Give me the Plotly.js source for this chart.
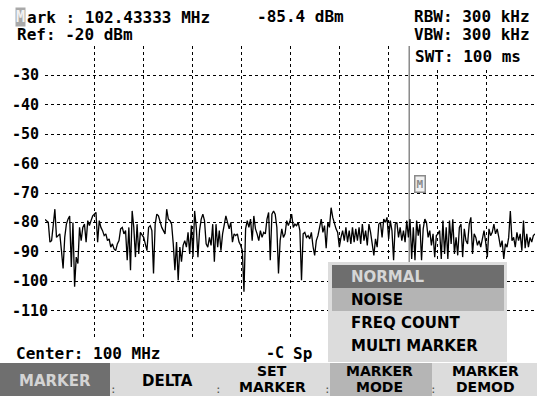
<!DOCTYPE html>
<html><head><meta charset="utf-8">
<script src="https://cdn.plot.ly/plotly-3.0.1.min.js"></script>
<style>html,body{margin:0;padding:0;background:#fff;overflow:hidden}#chart{width:537px;height:396px}</style>
</head><body><div id="chart"></div>
<script>
// ---- data ----
const startFreqMHz = 95;
const stopFreqMHz = 105;
const gridFreqsMHz = [95, 96, 97, 98, 99, 100, 101, 102, 103, 104, 105];
const gridLevelsDbm = [-20, -30, -40, -50, -60, -70, -80, -90, -100, -110, -120];
const yTickVals = [-30, -40, -50, -60, -70, -80, -90, -100, -110];
const yTickText = ['-30', '-40', '-50', '-60', '-70', '-80', '-90', '-100', '-110'];
const markerFreqMHz = 102.43333;
const markerLevelDbm = -85.4;
const levelsDbm = [
  -79, -79.5, -80, -86.7, -86.2, -81, -75.5, -85.1, -84.5, -83.9,
  -89.6, -95.7, -85.1, -80.6, -78.9, -77.8, -95.2, -80, -101.9, -91.8,
  -94, -81.7, -86.2, -81.7, -80.6, -86.7, -79.4, -81.1, -79.4, -77.8,
  -77.2, -76.6, -86.7, -79.4, -81.7, -82.8, -84.5, -83.9, -86.2, -85.6,
  -88.4, -87.3, -89, -89.6, -87.3, -86.2, -82.2, -81.7, -83.9, -82.8,
  -92.9, -81.7, -96.3, -76.1, -81.7, -91.8, -80.6, -90.7, -83.4, -84.5,
  -85.1, -87.3, -89.6, -81.7, -81.1, -82.8, -97.4, -80.6, -77.2, -77.8,
  -80, -81.7, -82.8, -83.9,
  -75.5, -78.9, -79.4, -80.6, -87.3, -96.3, -86.7, -99.7, -88.4, -93.4,
  -87.8, -86.2, -88.4, -83.4, -90.7, -81.1, -91.8, -76.1, -81.7, -91.8,
  -82.8, -78.9, -77.2, -79.4, -87.3, -88.4, -85.1, -87.8, -80.6, -93.4,
  -80.6, -88.4, -82.8, -89.6, -83.9, -81.1, -77.8, -80, -82.2, -80,
  -86.7, -83.9, -84.5, -83.9, -86.7, -87.8, -89.6, -103.6, -82.2, -79.4,
  -81.7, -78.9, -86.2, -77.8, -82.2, -83.9, -86.2, -82.8, -85.1, -83.4,
  -83.9, -78.9, -76.6, -92.9, -77.2, -76.1, -77.2, -81.7, -97.4, -86.2,
  -82.2, -85.1, -83.9,
  -79.4, -81.1, -79.4, -77.2, -81.7, -80.6, -81.1, -80, -82.8, -99.7,
  -83.9, -83.4, -85.1, -84.5, -85.6, -83.4, -88.2, -91.2, -86.2, -84.5,
  -81.7, -78.9, -83.4, -81.1, -88.8, -80, -81.7, -75, -78.3, -80.6,
  -82.2, -83.4, -88.4, -85.1, -82.8, -86.2, -81.7, -86.7, -82.8, -87.3,
  -81.7, -86.7, -82.2, -86.2, -81.7, -87.3, -80.6, -86.2, -82.8, -87.8,
  -80.6, -83.4, -87.3, -91.2, -85.6, -88.4, -80.6, -80, -85.1, -78.9,
  -80, -78.3, -85.6, -79.4, -82.8, -92.9, -80.6, -80, -85.1, -81.7,
  -86.2, -82.8, -86.7,
  -79.4, -85.1, -78.9, -92.4, -81.7, -92.9, -79.4, -84.5, -80.6, -92.9,
  -82.2, -78.9, -80, -85.1, -82.8, -87.8, -83.9, -91.8, -84.5, -83.9,
  -82.8, -92.4, -79.4, -90.7, -81.7, -92.4, -79.4, -87.3, -78.9, -90.7,
  -85.1, -91.2, -81.7, -80.6, -91.8, -82.2, -86.2, -87.3, -80.6, -78.3,
  -90.7, -83.9, -85.1, -87.8, -86.2, -88.4, -85.1, -82.8, -86.7, -91.8,
  -82.2, -84.5, -83.4, -80.6, -83.9, -82.2, -85.1, -88.4, -86.2, -92.4,
  -87.3, -88.4, -85.1, -76.1, -86.2, -85.1, -88.4, -83.4, -86.2, -83.9,
  -89.6, -79.4, -88.8, -83.9, -88.4, -85.1, -86.7, -84.5, -83.9
];
const headerLeft = ['ark : 102.43333 MHz', 'Ref: -20 dBm'];
const markerReadout = '-85.4 dBm';
const headerRight = ['RBW: 300 kHz', 'VBW: 300 kHz', 'SWT: 100 ms'];
const menuItems = ['NORMAL', 'NOISE', 'FREQ COUNT', 'MULTI MARKER'];
const softkeys = [['MARKER'], ['DELTA'], ['SET', 'MARKER'], ['MARKER', 'MODE'], ['MARKER', 'DEMOD']];
const centerText = 'Center: 100 MHz';

// ---- layout helpers (page pixels -> paper fractions) ----
const W = 537, H = 396;
const X = p => p / W;
const Y = p => 1 - p / H;
const mono = 'DejaVu Sans Mono';
const sans = 'DejaVu Sans';

const freqs = levelsDbm.map((_, i) => startFreqMHz + i * (stopFreqMHz - startFreqMHz) / (levelsDbm.length - 1));

const trace = {
  x: freqs, y: levelsDbm, type: 'scatter', mode: 'lines',
  line: {color: '#000', width: 1.3}, hoverinfo: 'skip'
};

const shapes = [];
const ann = [];
function txt(text, px, py, o) {
  o = o || {};
  ann.push(Object.assign({
    text: text, xref: 'paper', yref: 'paper', x: X(px), y: Y(py),
    xanchor: 'left', yanchor: 'middle', showarrow: false,
    font: {family: mono, size: 16, color: '#000', weight: 'bold'}
  }, o));
}
function rect(x0, y0, x1, y1, fill) {
  shapes.push({type: 'rect', xref: 'paper', yref: 'paper', x0: X(x0), x1: X(x1), y0: Y(y1), y1: Y(y0),
    fillcolor: fill, line: {width: 0}, layer: 'above'});
}

// marker line
shapes.push({type: 'line', xref: 'x', yref: 'paper', x0: markerFreqMHz, x1: markerFreqMHz,
  y0: Y(340), y1: Y(46), line: {color: '#8a8a8a', width: 1.5}, layer: 'below'});

// header
txt('M', 15, 17, {font: {family: mono, size: 15, color: '#f2f2f2', weight: 'bold'}, bgcolor: '#a9a9a9', borderpad: 0});
txt(headerLeft[0], 25, 17);
txt(headerLeft[1], 15, 34);
txt(markerReadout, 255, 16);
txt(headerRight[0], 412, 16);
txt(headerRight[1], 412, 34);
txt(headerRight[2], 412, 56, {bgcolor: '#fff', borderpad: 2});
// white strip behind SWT text
rect(411, 46.5, 537, 65, '#fff');

// y tick labels (left aligned like the instrument)
yTickVals.forEach((v, i) => {
  ann.push({text: yTickText[i], xref: 'paper', yref: 'y', x: X(11), y: v, xanchor: 'left', yanchor: 'middle',
    showarrow: false, bgcolor: '#fff', borderpad: 0,
    font: {family: mono, size: 15, color: '#000', weight: 'bold'}});
});

// marker symbol on the trace
ann.push({text: 'M', xref: 'x', yref: 'paper', x: markerFreqMHz, xshift: 11, y: Y(184), xanchor: 'center', yanchor: 'middle',
  showarrow: false, bgcolor: '#f2f2f2', bordercolor: '#8a8a8a', borderwidth: 1.5, borderpad: 1,
  font: {family: mono, size: 11, color: '#8a8a8a', weight: 'bold'}});

// bottom status line
txt(centerText, 14, 353);
txt('-C', 264, 353, {font: {family: mono, size: 15, color: '#000', weight: 'bold'}});
txt('Sp', 291, 353);

// softkey row
rect(0, 363, 537, 396, '#dcdcdc');
rect(0, 363, 110, 396, '#6f6f6f');
rect(330, 363, 432, 396, '#b5b5b5');
const keyCenters = [55, 167, 272, 379, 485];
softkeys.forEach((lines, i) => {
  lines.forEach((l, j) => {
    const yy = lines.length === 1 ? 381 : 371 + 16 * j;
    txt(l, keyCenters[i], yy, {xanchor: 'center',
      font: {family: sans, size: lines.length === 1 ? 15 : 14, color: i === 0 ? '#d4d4d4' : '#000', weight: 'bold'}});
  });
});
[113, 218, 327, 433].forEach(sx => txt(':', sx, 389, {xanchor: 'center', font: {family: mono, size: 11, color: '#555'}}));

// marker mode menu
rect(328, 262, 507, 362, '#dcdcdc');
rect(332, 265, 504, 288, '#6e6e6e');
rect(332, 288, 504, 311, '#b4b4b4');
menuItems.forEach((m, i) => {
  txt(m, 349, 277 + 23 * i, {font: {family: sans, size: 15, color: i === 0 ? '#d6d6d6' : '#000', weight: 'bold'}});
});

const grid = {showgrid: true, gridcolor: 'black', gridwidth: 1, griddash: 'dot', zeroline: false,
  showline: false, ticks: '', showticklabels: false, fixedrange: true};

const layout = {
  width: W, height: H, margin: {l: 0, r: 0, t: 0, b: 0},
  paper_bgcolor: '#fff', plot_bgcolor: '#fff', showlegend: false,
  xaxis: Object.assign({}, grid, {domain: [X(45), X(535)], range: [startFreqMHz, stopFreqMHz], tickvals: gridFreqsMHz}),
  yaxis: Object.assign({}, grid, {domain: [Y(340), Y(46)], range: [-120, -20], tickvals: gridLevelsDbm}),
  shapes: shapes, annotations: ann
};

Plotly.newPlot('chart', [trace], layout, {displayModeBar: false, staticPlot: true});
</script></body></html>
